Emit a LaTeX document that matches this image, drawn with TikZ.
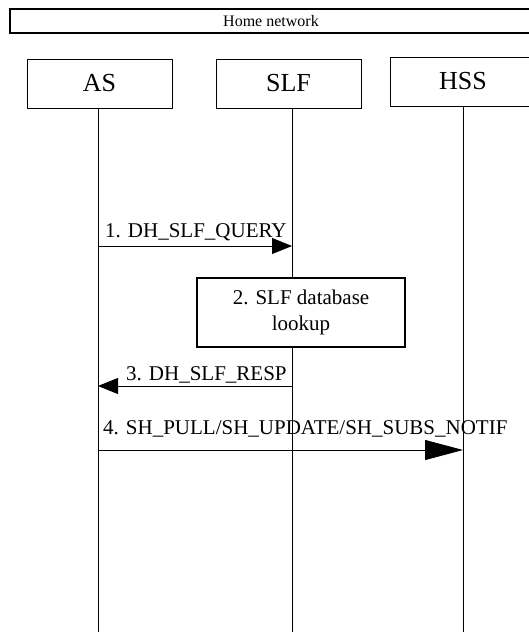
\documentclass[tikz,border=0pt]{standalone}
\usepackage{fontspec}
\setmainfont{Liberation Serif}
\usetikzlibrary{arrows.meta}
\begin{document}
\begin{tikzpicture}[x=1bp,y=-1bp,
 ent/.style={draw,line width=0.8bp,minimum width=145bp,minimum height=49bp,inner sep=0,font=\fontsize{26bp}{30bp}\selectfont},
 life/.style={line width=0.8bp},
 msg/.style={line width=0.8bp,-{Triangle[length=20bp,width=16bp]}},
 bigmsg/.style={line width=0.8bp,-{Triangle[length=38bp,width=20bp]}},
 lbl/.style={anchor=base west,inner sep=0,font=\fontsize{21bp}{25bp}\selectfont}]
\useasboundingbox (0,0) rectangle (529,632);
\clip (0,0) rectangle (529,632);
\node[draw,line width=1.4bp,minimum width=522bp,minimum height=24bp,inner sep=0,font=\fontsize{16bp}{19bp}\selectfont] (home) at (271,21) {Home network};
\node[ent] (as) at (99.5,83.5) {AS};
\node[ent] (slf) at (288.5,83.5) {SLF};
\node[ent,minimum width=146bp] (hss) at (463,81.5) {HSS};
\coordinate (asT) at (98,108);
\coordinate (asB) at (98,633);
\coordinate (slfT) at (292,108);
\coordinate (slfB) at (292,633);
\coordinate (hssT) at (463,106);
\coordinate (hssB) at (463,633);
\draw[life] (asT) -- (asB);
\draw[life] (slfT) -- (slfB);
\draw[life] (hssT) -- (hssB);
\node[draw,fill=white,line width=1.2bp,minimum width=208bp,minimum height=69bp,inner sep=0,align=center,font=\fontsize{21bp}{26bp}\selectfont] (lookup) at (301,312.5) {2. SLF database\\lookup};
\coordinate (m1a) at (98,246);
\coordinate (m1b) at (292,246);
\coordinate (m3a) at (292,386);
\coordinate (m3b) at (98,386);
\coordinate (m4a) at (98,450);
\coordinate (m4b) at (463,450);
\draw[msg] (m1a) -- (m1b);
\draw[msg] (m3a) -- (m3b);
\draw[bigmsg] (m4a) -- (m4b);
\node[lbl] (l1) at (105,237) {1. DH\_SLF\_QUERY};
\node[lbl] (l3) at (126,380) {3. DH\_SLF\_RESP};
\node[lbl] (l4) at (103,434) {4. SH\_PULL/SH\_UPDATE/SH\_SUBS\_NOTIF};
\end{tikzpicture}
\end{document}
